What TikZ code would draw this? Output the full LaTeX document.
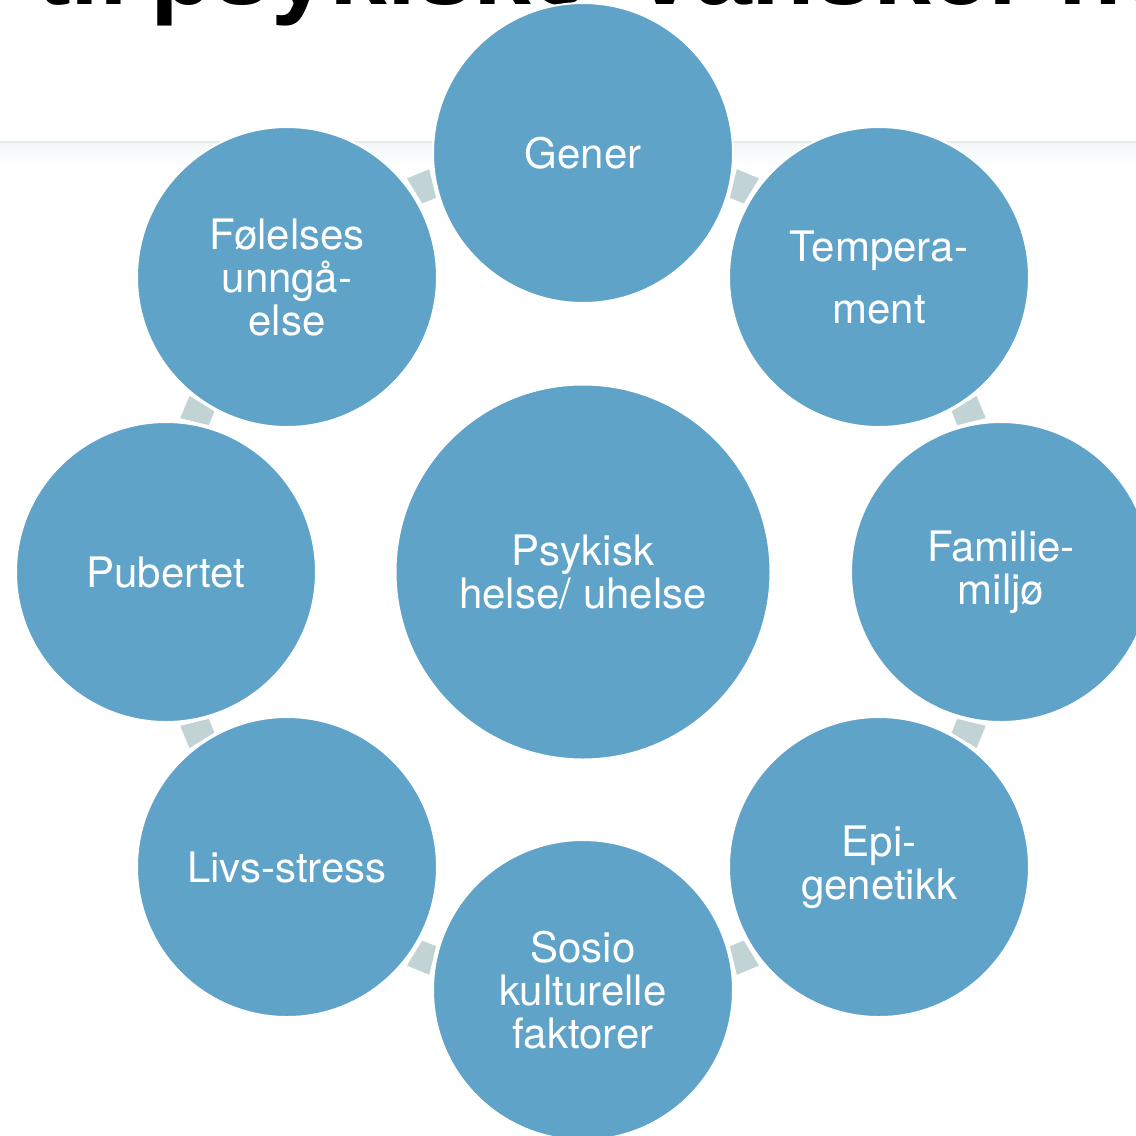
\documentclass[tikz,border=0pt]{standalone}
\usepackage{fontspec}
\setmainfont{TeX Gyre Heros}
\newfontfamily\titlefont{Liberation Sans}
\definecolor{bubble}{RGB}{95,163,200}
\definecolor{linkc}{RGB}{194,211,214}
\definecolor{rulec}{RGB}{226,234,234}
\definecolor{shadec}{RGB}{243,247,247}
\begin{document}
\begin{tikzpicture}[x=1pt,y=-1pt,
  bub/.style={circle,fill=bubble,draw=white,line width=2pt,inner sep=0pt,text=white,align=center,
    font=\fontsize{42}{43}\selectfont,minimum size=300pt},
  big/.style={bub,minimum size=375pt},
  ttl/.style={anchor=base west,inner sep=0pt,font=\titlefont\bfseries\fontsize{104}{104}\selectfont},
  linkshape/.style={fill=linkc}]
\useasboundingbox (0,0) rectangle (1136,1136);
\clip (0,0) rectangle (1136,1136);
\fill[white] (0,0) rectangle (1136,1136);
% cut-off title
\node[ttl] (w1) at (36,4) {til};
\node[ttl] (w2) at (150,4) {psykiske};
\node[ttl] (w3) at (636,4) {vansker};
\node[ttl] (w4) at (1058,4) {hos};
% title rule
\shade[top color=shadec,bottom color=white] (0,143) rectangle (1136,168);
\draw[rulec,line width=2pt] (0,142) -- (1136,142);
% ring connectors
\coordinate (ctr) at (583,572);
\foreach \a in {22.5,67.5,...,337.5}{
  \fill[linkshape,shift={(ctr)},rotate=\a] (402,-7.5) -- (431,-12) -- (431,12) -- (402,7.5) -- cycle;
}
% circles
\node[big] (c) at (ctr) {Psykisk\\helse/ uhelse};
\node[bub] (g) at (583,153) {Gener};
\node[bub] (t) at (879,277) {Tempera-\\[19pt]ment};
\node[bub] (f) at (1001,572) {Familie-\\miljø};
\node[bub] (e) at (879,867) {Epi-\\genetikk};
\node[bub] (s) at (583,990) {Sosio\\kulturelle\\faktorer};
\node[bub] (l) at (287,867) {Livs-stress};
\node[bub] (p) at (166,572) {Pubertet};
\node[bub] (fo) at (287,277) {Følelses\\unngå-\\else};
\end{tikzpicture}
\end{document}
